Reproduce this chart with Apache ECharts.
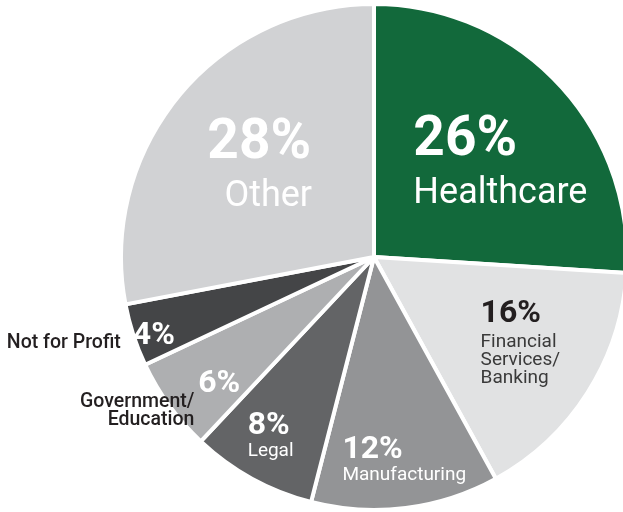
<!DOCTYPE html>
<html>
<head>
<meta charset="utf-8">
<script src="https://cdn.jsdelivr.net/npm/echarts@6/dist/echarts.min.js"></script>
<style>
html,body{margin:0;padding:0;background:#fff;}
#main{width:623px;height:512px;}
</style>
</head>
<body>
<div id="main"></div>
<script>
const categories = ['Healthcare', 'Financial Services/ Banking', 'Manufacturing', 'Legal', 'Government/ Education', 'Not for Profit', 'Other'];
const values = [26, 16, 12, 8, 6, 4, 28];
const labelNames = ['Healthcare', 'Financial\nServices/\nBanking', 'Manufacturing', 'Legal', 'Government/\nEducation', 'Not for Profit', 'Other'];

const colors = ['#12693b', '#e1e2e3', '#939496', '#636466', '#aeafb1', '#444547', '#d1d2d4'];
// label placement: inside (percent + name) or outside name
const insideName = [true, true, true, true, false, false, true];
const labelOffsets = [[32, -4], [37, 15], [14, 74], [-41, 65], [-50, 51], [-97, 39], [-15, -7]];
const outerOffsets = [null, null, null, null, [-132, 78], [-187, 46], null];

const FONT = 'Roboto';

function insideLabel(i) {
  const big = values[i] >= 20;
  const dark = i === 1;
  const pc = dark ? '#231f20' : '#ffffff';
  const nc = dark ? '#3a3a3a' : '#ffffff';
  const al = i === 6 ? 'center' : 'left';
  const rich = {
    p: { fontFamily: FONT, fontWeight: 'bold', fontSize: big ? 55 : 32, lineHeight: big ? 60 : (i === 1 ? 38 : 32), color: pc, align: al },
    n: { fontFamily: FONT, fontSize: big ? 36 : 19, lineHeight: big ? 47 : 18, color: nc, align: al, padding: i === 6 ? [0, 0, 0, 18] : 0 }
  };
  let txt = '{p|' + values[i] + '%}';
  if (insideName[i]) {
    txt += '\n' + labelNames[i].split('\n').map(s => '{n|' + s + '}').join('\n');
  }
  return { show: true, position: 'inside', formatter: txt, rich: rich };
}

const data1 = categories.map((c, i) => ({
  name: c, value: values[i],
  itemStyle: { color: colors[i] },
  label: insideLabel(i)
}));

const data2 = categories.map((c, i) => ({
  name: c, value: values[i],
  itemStyle: { color: 'rgba(0,0,0,0)', borderWidth: 0 },
  label: outerOffsets[i] ? {
    show: true, position: 'inside',
    formatter: labelNames[i].split('\n').map(s => '{n|' + s + '}').join('\n'),
    rich: { n: { fontFamily: FONT, fontWeight: 500, fontSize: 19.5, lineHeight: 18, color: '#231f20', align: 'right' } }
  } : { show: false }
}));

const chart = echarts.init(document.getElementById('main'), null, { renderer: 'canvas' });
chart.setOption({
  animation: false,
  backgroundColor: '#ffffff',
  series: [
    {
      type: 'pie',
      center: [374, 257],
      radius: [0, 253],
      startAngle: 90,
      clockwise: true,
      silent: true,
      itemStyle: { borderColor: '#ffffff', borderWidth: 4 },
      labelLine: { show: false },
      labelLayout: function (p) {
        const o = labelOffsets[p.dataIndex];
        return { dx: o[0], dy: o[1] };
      },
      data: data1
    },
    {
      type: 'pie',
      center: [374, 257],
      radius: [0, 253],
      startAngle: 90,
      clockwise: true,
      silent: true,
      z: 3,
      labelLine: { show: false },
      labelLayout: function (p) {
        const o = outerOffsets[p.dataIndex] || [0, 0];
        return { dx: o[0], dy: o[1] };
      },
      data: data2
    }
  ]
});
</script>
</body>
</html>
